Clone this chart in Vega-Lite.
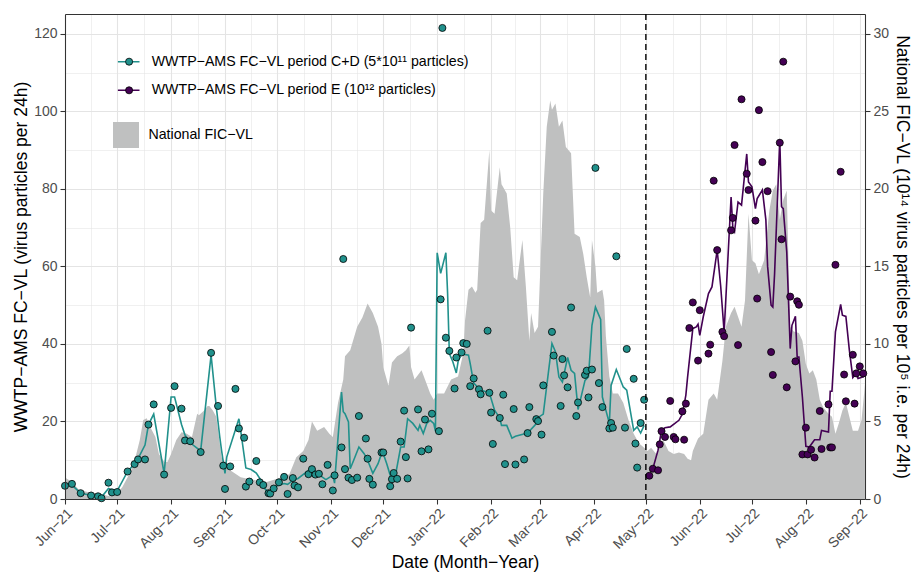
{
"$schema": "https://vega.github.io/schema/vega-lite/v6.json",
"width": 800, "height": 485,
"autosize": {"type": "none"},
"padding": {"left": 65, "top": 14, "right": 54, "bottom": 73},
"background": "white",
"config": {
  "font": "Liberation Sans",
  "view": {"stroke": null},
  "axis": {"labelFont": "Liberation Sans", "titleFont": "Liberation Sans", "labelFontSize": 14, "labelColor": "#4D4D4D", "titleFontSize": 17.5, "titleFontWeight": "normal", "titleColor": "black", "tickColor": "#333333", "domainColor": "#333333", "tickWidth": 1.07, "domainWidth": 1.07, "gridColor": "#E4E4E4"},
  "legend": {"labelFont": "Liberation Sans", "labelFontSize": 14.2, "labelColor": "black", "labelLimit": 500, "padding": 0, "title": null}
},
"datasets": {
  "fic": [
{"date":"2021-06-01","fic":1.38},{"date":"2021-06-05","fic":1.1},{"date":"2021-06-09","fic":0.6},{"date":"2021-06-14","fic":0.45},{"date":"2021-06-19","fic":0.35},{"date":"2021-06-27","fic":0.17},{"date":"2021-07-01","fic":0.35},{"date":"2021-07-04","fic":0.77},{"date":"2021-07-07","fic":1.4},{"date":"2021-07-10","fic":2.1},{"date":"2021-07-12","fic":2.9},{"date":"2021-07-14","fic":3.8},{"date":"2021-07-16","fic":5.1},{"date":"2021-07-18","fic":5.2},{"date":"2021-07-20","fic":4.65},{"date":"2021-07-23","fic":4.0},{"date":"2021-07-25","fic":2.9},{"date":"2021-07-28","fic":2.4},{"date":"2021-07-30","fic":2.4},{"date":"2021-08-01","fic":2.9},{"date":"2021-08-04","fic":3.8},{"date":"2021-08-07","fic":4.3},{"date":"2021-08-10","fic":4.2},{"date":"2021-08-13","fic":4.0},{"date":"2021-08-16","fic":5.5},{"date":"2021-08-17","fic":5.4},{"date":"2021-08-20","fic":5.7},{"date":"2021-08-22","fic":6.0},{"date":"2021-08-23","fic":6.0},{"date":"2021-08-25","fic":5.7},{"date":"2021-08-27","fic":5.3},{"date":"2021-08-30","fic":2.7},{"date":"2021-09-01","fic":2.4},{"date":"2021-09-04","fic":1.85},{"date":"2021-09-10","fic":1.4},{"date":"2021-09-14","fic":1.3},{"date":"2021-09-19","fic":1.2},{"date":"2021-09-25","fic":1.1},{"date":"2021-10-01","fic":1.3},{"date":"2021-10-08","fic":1.6},{"date":"2021-10-12","fic":2.7},{"date":"2021-10-16","fic":3.1},{"date":"2021-10-19","fic":3.8},{"date":"2021-10-21","fic":5.0},{"date":"2021-10-24","fic":4.4},{"date":"2021-10-28","fic":4.65},{"date":"2021-10-31","fic":4.2},{"date":"2021-11-02","fic":4.0},{"date":"2021-11-05","fic":6.2},{"date":"2021-11-08","fic":7.7},{"date":"2021-11-09","fic":9.2},{"date":"2021-11-12","fic":9.6},{"date":"2021-11-16","fic":11.1},{"date":"2021-11-19","fic":11.7},{"date":"2021-11-22","fic":12.6},{"date":"2021-11-25","fic":12.0},{"date":"2021-11-28","fic":11.1},{"date":"2021-11-30","fic":10.0},{"date":"2021-12-01","fic":8.5},{"date":"2021-12-04","fic":7.3},{"date":"2021-12-06","fic":8.8},{"date":"2021-12-09","fic":9.2},{"date":"2021-12-12","fic":9.4},{"date":"2021-12-14","fic":9.6},{"date":"2021-12-16","fic":9.9},{"date":"2021-12-17","fic":8.5},{"date":"2021-12-19","fic":7.7},{"date":"2021-12-23","fic":8.3},{"date":"2021-12-25","fic":7.7},{"date":"2021-12-28","fic":6.8},{"date":"2021-12-30","fic":6.4},{"date":"2022-01-01","fic":6.8},{"date":"2022-01-05","fic":6.8},{"date":"2022-01-09","fic":7.7},{"date":"2022-01-13","fic":7.9},{"date":"2022-01-16","fic":9.4},{"date":"2022-01-17","fic":11.5},{"date":"2022-01-19","fic":13.5},{"date":"2022-01-21","fic":13.7},{"date":"2022-01-23","fic":13.3},{"date":"2022-01-24","fic":13.5},{"date":"2022-01-26","fic":17.8},{"date":"2022-01-28","fic":18.0},{"date":"2022-01-31","fic":22.5},{"date":"2022-02-01","fic":18.6},{"date":"2022-02-03","fic":18.4},{"date":"2022-02-06","fic":21.4},{"date":"2022-02-07","fic":20.3},{"date":"2022-02-10","fic":19.7},{"date":"2022-02-12","fic":17.5},{"date":"2022-02-14","fic":14.3},{"date":"2022-02-16","fic":14.1},{"date":"2022-02-19","fic":16.7},{"date":"2022-02-21","fic":13.7},{"date":"2022-02-23","fic":10.2},{"date":"2022-02-24","fic":12.0},{"date":"2022-02-26","fic":10.7},{"date":"2022-02-28","fic":11.1},{"date":"2022-03-03","fic":19.7},{"date":"2022-03-05","fic":24.0},{"date":"2022-03-07","fic":25.7},{"date":"2022-03-08","fic":25.1},{"date":"2022-03-10","fic":25.5},{"date":"2022-03-12","fic":24.0},{"date":"2022-03-14","fic":24.4},{"date":"2022-03-16","fic":22.7},{"date":"2022-03-19","fic":22.3},{"date":"2022-03-21","fic":17.1},{"date":"2022-03-24","fic":16.9},{"date":"2022-03-26","fic":15.8},{"date":"2022-03-28","fic":14.3},{"date":"2022-03-30","fic":13.0},{"date":"2022-03-31","fic":16.7},{"date":"2022-04-02","fic":15.0},{"date":"2022-04-03","fic":13.3},{"date":"2022-04-06","fic":13.5},{"date":"2022-04-07","fic":12.8},{"date":"2022-04-08","fic":10.5},{"date":"2022-04-10","fic":7.9},{"date":"2022-04-12","fic":6.8},{"date":"2022-04-15","fic":6.8},{"date":"2022-04-18","fic":6.2},{"date":"2022-04-21","fic":5.1},{"date":"2022-04-24","fic":4.2},{"date":"2022-04-27","fic":3.6},{"date":"2022-04-30","fic":3.3},{"date":"2022-05-02","fic":3.1},{"date":"2022-05-04","fic":3.3},{"date":"2022-05-07","fic":2.9},{"date":"2022-05-09","fic":3.3},{"date":"2022-05-11","fic":3.8},{"date":"2022-05-14","fic":3.1},{"date":"2022-05-17","fic":2.9},{"date":"2022-05-20","fic":3.0},{"date":"2022-05-23","fic":2.9},{"date":"2022-05-25","fic":2.6},{"date":"2022-05-27","fic":2.5},{"date":"2022-05-28","fic":3.1},{"date":"2022-05-31","fic":3.9},{"date":"2022-06-03","fic":4.2},{"date":"2022-06-06","fic":6.4},{"date":"2022-06-09","fic":6.8},{"date":"2022-06-11","fic":6.4},{"date":"2022-06-14","fic":8.9},{"date":"2022-06-16","fic":11.1},{"date":"2022-06-19","fic":12.0},{"date":"2022-06-21","fic":12.4},{"date":"2022-06-25","fic":11.1},{"date":"2022-06-27","fic":12.8},{"date":"2022-06-28","fic":15.6},{"date":"2022-06-29","fic":18.4},{"date":"2022-07-01","fic":15.4},{"date":"2022-07-03","fic":15.2},{"date":"2022-07-05","fic":14.5},{"date":"2022-07-08","fic":15.4},{"date":"2022-07-11","fic":18.6},{"date":"2022-07-13","fic":19.9},{"date":"2022-07-15","fic":20.3},{"date":"2022-07-17","fic":18.0},{"date":"2022-07-19","fic":19.3},{"date":"2022-07-21","fic":19.9},{"date":"2022-07-22","fic":15.4},{"date":"2022-07-23","fic":11.1},{"date":"2022-07-25","fic":10.8},{"date":"2022-07-28","fic":10.7},{"date":"2022-07-30","fic":10.2},{"date":"2022-08-01","fic":8.7},{"date":"2022-08-03","fic":8.1},{"date":"2022-08-05","fic":8.3},{"date":"2022-08-07","fic":7.7},{"date":"2022-08-09","fic":6.4},{"date":"2022-08-11","fic":5.9},{"date":"2022-08-14","fic":5.5},{"date":"2022-08-16","fic":5.3},{"date":"2022-08-18","fic":4.2},{"date":"2022-08-20","fic":4.9},{"date":"2022-08-22","fic":5.7},{"date":"2022-08-24","fic":6.2},{"date":"2022-08-26","fic":5.3},{"date":"2022-08-28","fic":4.4},{"date":"2022-08-31","fic":4.4},{"date":"2022-09-02","fic":5.1},{"date":"2022-09-04","fic":7.4}
  ],
  "lines": [
{"date":"2021-06-01","v":3.5,"series":"CD"},{"date":"2021-06-04","v":4.0,"series":"CD"},{"date":"2021-06-10","v":1.5,"series":"CD"},{"date":"2021-06-16","v":0.95,"series":"CD"},{"date":"2021-06-22","v":0.5,"series":"CD"},{"date":"2021-06-26","v":2.7,"series":"CD"},{"date":"2021-06-28","v":2.4,"series":"CD"},{"date":"2021-07-01","v":2.1,"series":"CD"},{"date":"2021-07-07","v":7.1,"series":"CD"},{"date":"2021-07-11","v":9.1,"series":"CD"},{"date":"2021-07-13","v":10.4,"series":"CD"},{"date":"2021-07-17","v":13.9,"series":"CD"},{"date":"2021-07-19","v":19.2,"series":"CD"},{"date":"2021-07-22","v":21.9,"series":"CD"},{"date":"2021-07-28","v":6.6,"series":"CD"},{"date":"2021-08-01","v":26.3,"series":"CD"},{"date":"2021-08-03","v":26.3,"series":"CD"},{"date":"2021-08-07","v":19.2,"series":"CD"},{"date":"2021-08-09","v":16.5,"series":"CD"},{"date":"2021-08-12","v":14.5,"series":"CD"},{"date":"2021-08-18","v":12.4,"series":"CD"},{"date":"2021-08-24","v":37.1,"series":"CD"},{"date":"2021-08-27","v":23.7,"series":"CD"},{"date":"2021-08-29","v":16,"series":"CD"},{"date":"2021-08-30","v":12.6,"series":"CD"},{"date":"2021-09-01","v":6.6,"series":"CD"},{"date":"2021-09-02","v":10.8,"series":"CD"},{"date":"2021-09-09","v":20.7,"series":"CD"},{"date":"2021-09-10","v":17.7,"series":"CD"},{"date":"2021-09-13","v":8.0,"series":"CD"},{"date":"2021-09-16","v":7.6,"series":"CD"},{"date":"2021-09-19","v":6.7,"series":"CD"},{"date":"2021-09-22","v":4.6,"series":"CD"},{"date":"2021-09-23","v":3.1,"series":"CD"},{"date":"2021-09-26","v":1.7,"series":"CD"},{"date":"2021-09-28","v":2.2,"series":"CD"},{"date":"2021-10-01","v":3.4,"series":"CD"},{"date":"2021-10-05","v":4.0,"series":"CD"},{"date":"2021-10-07","v":3.8,"series":"CD"},{"date":"2021-10-10","v":4.8,"series":"CD"},{"date":"2021-10-13","v":5.3,"series":"CD"},{"date":"2021-10-19","v":7.4,"series":"CD"},{"date":"2021-10-21","v":8.0,"series":"CD"},{"date":"2021-10-25","v":6.3,"series":"CD"},{"date":"2021-10-29","v":5.0,"series":"CD"},{"date":"2021-11-02","v":6.1,"series":"CD"},{"date":"2021-11-03","v":4.1,"series":"CD"},{"date":"2021-11-07","v":27.6,"series":"CD"},{"date":"2021-11-08","v":22.5,"series":"CD"},{"date":"2021-11-09","v":22.0,"series":"CD"},{"date":"2021-11-11","v":19.9,"series":"CD"},{"date":"2021-11-12","v":7.8,"series":"CD"},{"date":"2021-11-14","v":10.0,"series":"CD"},{"date":"2021-11-17","v":13.4,"series":"CD"},{"date":"2021-11-20","v":11.7,"series":"CD"},{"date":"2021-11-22","v":10.0,"series":"CD"},{"date":"2021-11-25","v":6.6,"series":"CD"},{"date":"2021-11-28","v":9.1,"series":"CD"},{"date":"2021-11-30","v":11.7,"series":"CD"},{"date":"2021-12-01","v":11.7,"series":"CD"},{"date":"2021-12-03","v":9.1,"series":"CD"},{"date":"2021-12-05","v":6.1,"series":"CD"},{"date":"2021-12-08","v":6.1,"series":"CD"},{"date":"2021-12-11","v":13.4,"series":"CD"},{"date":"2021-12-13","v":13.4,"series":"CD"},{"date":"2021-12-15","v":20.7,"series":"CD"},{"date":"2021-12-18","v":19.5,"series":"CD"},{"date":"2021-12-21","v":17.7,"series":"CD"},{"date":"2021-12-22","v":19.0,"series":"CD"},{"date":"2021-12-24","v":16.9,"series":"CD"},{"date":"2021-12-26","v":19.5,"series":"CD"},{"date":"2021-12-28","v":20.3,"series":"CD"},{"date":"2021-12-30","v":19.5,"series":"CD"},{"date":"2021-12-31","v":17.5,"series":"CD"},{"date":"2022-01-01","v":63.5,"series":"CD"},{"date":"2022-01-03","v":58.2,"series":"CD"},{"date":"2022-01-06","v":63.5,"series":"CD"},{"date":"2022-01-07","v":53,"series":"CD"},{"date":"2022-01-08","v":37.5,"series":"CD"},{"date":"2022-01-10","v":35.4,"series":"CD"},{"date":"2022-01-12","v":32.5,"series":"CD"},{"date":"2022-01-13","v":35.4,"series":"CD"},{"date":"2022-01-15","v":37.5,"series":"CD"},{"date":"2022-01-19","v":37.1,"series":"CD"},{"date":"2022-01-20","v":34.9,"series":"CD"},{"date":"2022-01-22","v":29.9,"series":"CD"},{"date":"2022-01-26","v":28.1,"series":"CD"},{"date":"2022-01-31","v":27.4,"series":"CD"},{"date":"2022-02-03","v":22.9,"series":"CD"},{"date":"2022-02-06","v":20.9,"series":"CD"},{"date":"2022-02-07","v":19.0,"series":"CD"},{"date":"2022-02-10","v":19.0,"series":"CD"},{"date":"2022-02-13","v":15.7,"series":"CD"},{"date":"2022-02-15","v":16.2,"series":"CD"},{"date":"2022-02-22","v":17.0,"series":"CD"},{"date":"2022-02-28","v":19.9,"series":"CD"},{"date":"2022-03-01","v":21.3,"series":"CD"},{"date":"2022-03-03","v":21.9,"series":"CD"},{"date":"2022-03-08","v":40.1,"series":"CD"},{"date":"2022-03-10","v":38,"series":"CD"},{"date":"2022-03-12","v":31.5,"series":"CD"},{"date":"2022-03-14","v":30.2,"series":"CD"},{"date":"2022-03-17","v":36.5,"series":"CD"},{"date":"2022-03-19","v":33.2,"series":"CD"},{"date":"2022-03-21","v":32.4,"series":"CD"},{"date":"2022-03-23","v":23.1,"series":"CD"},{"date":"2022-03-25","v":26.8,"series":"CD"},{"date":"2022-03-27","v":30.6,"series":"CD"},{"date":"2022-03-29","v":31.5,"series":"CD"},{"date":"2022-03-31","v":44.8,"series":"CD"},{"date":"2022-04-02","v":49.5,"series":"CD"},{"date":"2022-04-05","v":46.3,"series":"CD"},{"date":"2022-04-06","v":26.3,"series":"CD"},{"date":"2022-04-10","v":19.5,"series":"CD"},{"date":"2022-04-11","v":29.3,"series":"CD"},{"date":"2022-04-14","v":33.4,"series":"CD"},{"date":"2022-04-18","v":28.9,"series":"CD"},{"date":"2022-04-20","v":28.1,"series":"CD"},{"date":"2022-04-24","v":17.7,"series":"CD"},{"date":"2022-04-26","v":18.6,"series":"CD"},{"date":"2022-04-28","v":17.0,"series":"CD"},{"date":"2022-04-30","v":19.0,"series":"CD"},
{"date":"2022-05-05","v":7.8,"series":"E"},{"date":"2022-05-08","v":12.6,"series":"E"},{"date":"2022-05-10","v":17.7,"series":"E"},{"date":"2022-05-12","v":18.4,"series":"E"},{"date":"2022-05-15","v":18.6,"series":"E"},{"date":"2022-05-20","v":20.3,"series":"E"},{"date":"2022-05-22","v":21.9,"series":"E"},{"date":"2022-05-24","v":26.8,"series":"E"},{"date":"2022-05-25","v":31.5,"series":"E"},{"date":"2022-05-28","v":44.0,"series":"E"},{"date":"2022-05-30","v":44.4,"series":"E"},{"date":"2022-05-31","v":45.1,"series":"E"},{"date":"2022-06-01","v":42.2,"series":"E"},{"date":"2022-06-03","v":47,"series":"E"},{"date":"2022-06-06","v":53,"series":"E"},{"date":"2022-06-08","v":54.7,"series":"E"},{"date":"2022-06-11","v":64.2,"series":"E"},{"date":"2022-06-13","v":55,"series":"E"},{"date":"2022-06-15","v":43.1,"series":"E"},{"date":"2022-06-19","v":77.9,"series":"E"},{"date":"2022-06-20","v":70,"series":"E"},{"date":"2022-06-21","v":69,"series":"E"},{"date":"2022-06-23","v":76.6,"series":"E"},{"date":"2022-06-25","v":75.8,"series":"E"},{"date":"2022-06-28","v":89,"series":"E"},{"date":"2022-06-29","v":81.8,"series":"E"},{"date":"2022-07-01","v":80.5,"series":"E"},{"date":"2022-07-03","v":74.9,"series":"E"},{"date":"2022-07-04","v":77.5,"series":"E"},{"date":"2022-07-07","v":79.7,"series":"E"},{"date":"2022-07-09","v":72,"series":"E"},{"date":"2022-07-10","v":60,"series":"E"},{"date":"2022-07-12","v":50,"series":"E"},{"date":"2022-07-13","v":49.5,"series":"E"},{"date":"2022-07-14","v":58,"series":"E"},{"date":"2022-07-17","v":92.8,"series":"E"},{"date":"2022-07-18","v":75.4,"series":"E"},{"date":"2022-07-19","v":74.9,"series":"E"},{"date":"2022-07-21","v":63.7,"series":"E"},{"date":"2022-07-23","v":38.8,"series":"E"},{"date":"2022-07-24","v":44.8,"series":"E"},{"date":"2022-07-26","v":47.1,"series":"E"},{"date":"2022-07-27","v":36.6,"series":"E"},{"date":"2022-07-28","v":36.6,"series":"E"},{"date":"2022-07-30","v":26.3,"series":"E"},{"date":"2022-08-01","v":13.6,"series":"E"},{"date":"2022-08-03","v":13.4,"series":"E"},{"date":"2022-08-06","v":15.3,"series":"E"},{"date":"2022-08-09","v":15.3,"series":"E"},{"date":"2022-08-10","v":17.7,"series":"E"},{"date":"2022-08-14","v":17.3,"series":"E"},{"date":"2022-08-15","v":27.8,"series":"E"},{"date":"2022-08-16","v":27.8,"series":"E"},{"date":"2022-08-18","v":43.1,"series":"E"},{"date":"2022-08-21","v":50.2,"series":"E"},{"date":"2022-08-22","v":47.4,"series":"E"},{"date":"2022-08-24","v":47.1,"series":"E"},{"date":"2022-08-26","v":38.4,"series":"E"},{"date":"2022-08-28","v":31.3,"series":"E"},{"date":"2022-08-30","v":32.4,"series":"E"},{"date":"2022-08-31","v":31.1,"series":"E"},{"date":"2022-09-03","v":31.5,"series":"E"},{"date":"2022-09-04","v":32,"series":"E"}
  ],
  "points": [
{"date":"2021-06-01","v":3.4,"period":"C+D"},{"date":"2021-06-05","v":3.9,"period":"C+D"},{"date":"2021-06-10","v":1.5,"period":"C+D"},{"date":"2021-06-16","v":0.9,"period":"C+D"},{"date":"2021-06-20","v":0.7,"period":"C+D"},{"date":"2021-06-22","v":0.2,"period":"C+D"},{"date":"2021-06-26","v":4.2,"period":"C+D"},{"date":"2021-06-28","v":1.7,"period":"C+D"},{"date":"2021-07-01","v":1.8,"period":"C+D"},{"date":"2021-07-07","v":7.1,"period":"C+D"},{"date":"2021-07-11","v":9.0,"period":"C+D"},{"date":"2021-07-13","v":10.2,"period":"C+D"},{"date":"2021-07-17","v":10.2,"period":"C+D"},{"date":"2021-07-19","v":19.2,"period":"C+D"},{"date":"2021-07-22","v":24.4,"period":"C+D"},{"date":"2021-07-28","v":6.3,"period":"C+D"},{"date":"2021-08-01","v":23.5,"period":"C+D"},{"date":"2021-08-03","v":29.1,"period":"C+D"},{"date":"2021-08-07","v":23.3,"period":"C+D"},{"date":"2021-08-09","v":15.1,"period":"C+D"},{"date":"2021-08-12","v":14.9,"period":"C+D"},{"date":"2021-08-18","v":12.1,"period":"C+D"},{"date":"2021-08-24","v":37.7,"period":"C+D"},{"date":"2021-08-28","v":24.0,"period":"C+D"},{"date":"2021-08-31","v":8.6,"period":"C+D"},{"date":"2021-09-01","v":2.6,"period":"C+D"},{"date":"2021-09-04","v":8.4,"period":"C+D"},{"date":"2021-09-07","v":28.4,"period":"C+D"},{"date":"2021-09-09","v":18.2,"period":"C+D"},{"date":"2021-09-12","v":15.8,"period":"C+D"},{"date":"2021-09-13","v":3.2,"period":"C+D"},{"date":"2021-09-15","v":4.5,"period":"C+D"},{"date":"2021-09-19","v":9.8,"period":"C+D"},{"date":"2021-09-21","v":4.3,"period":"C+D"},{"date":"2021-09-23","v":3.6,"period":"C+D"},{"date":"2021-09-26","v":1.5,"period":"C+D"},{"date":"2021-09-27","v":1.4,"period":"C+D"},{"date":"2021-09-29","v":2.7,"period":"C+D"},{"date":"2021-10-02","v":4.3,"period":"C+D"},{"date":"2021-10-05","v":5.7,"period":"C+D"},{"date":"2021-10-07","v":1.3,"period":"C+D"},{"date":"2021-10-10","v":5.4,"period":"C+D"},{"date":"2021-10-11","v":3.5,"period":"C+D"},{"date":"2021-10-13","v":3.0,"period":"C+D"},{"date":"2021-10-16","v":10.4,"period":"C+D"},{"date":"2021-10-19","v":6.4,"period":"C+D"},{"date":"2021-10-21","v":7.7,"period":"C+D"},{"date":"2021-10-23","v":6.3,"period":"C+D"},{"date":"2021-10-25","v":6.5,"period":"C+D"},{"date":"2021-10-27","v":3.8,"period":"C+D"},{"date":"2021-10-30","v":8.8,"period":"C+D"},{"date":"2021-11-02","v":2.2,"period":"C+D"},{"date":"2021-11-03","v":6.1,"period":"C+D"},{"date":"2021-11-07","v":13.3,"period":"C+D"},{"date":"2021-11-08","v":61.9,"period":"C+D"},{"date":"2021-11-09","v":7.7,"period":"C+D"},{"date":"2021-11-11","v":5.5,"period":"C+D"},{"date":"2021-11-13","v":4.9,"period":"C+D"},{"date":"2021-11-16","v":5.5,"period":"C+D"},{"date":"2021-11-17","v":21.4,"period":"C+D"},{"date":"2021-11-21","v":15.6,"period":"C+D"},{"date":"2021-11-22","v":10.4,"period":"C+D"},{"date":"2021-11-23","v":5.2,"period":"C+D"},{"date":"2021-11-25","v":3.7,"period":"C+D"},{"date":"2021-11-30","v":12.0,"period":"C+D"},{"date":"2021-12-01","v":12.0,"period":"C+D"},{"date":"2021-12-05","v":3.3,"period":"C+D"},{"date":"2021-12-06","v":5.1,"period":"C+D"},{"date":"2021-12-07","v":6.7,"period":"C+D"},{"date":"2021-12-09","v":5.2,"period":"C+D"},{"date":"2021-12-11","v":14.8,"period":"C+D"},{"date":"2021-12-13","v":22.8,"period":"C+D"},{"date":"2021-12-14","v":10.8,"period":"C+D"},{"date":"2021-12-15","v":5.3,"period":"C+D"},{"date":"2021-12-17","v":44.2,"period":"C+D"},{"date":"2021-12-21","v":23.1,"period":"C+D"},{"date":"2021-12-23","v":12.3,"period":"C+D"},{"date":"2021-12-25","v":20.5,"period":"C+D"},{"date":"2021-12-27","v":12.8,"period":"C+D"},{"date":"2021-12-29","v":22.0,"period":"C+D"},{"date":"2022-01-02","v":17.5,"period":"C+D"},{"date":"2022-01-03","v":51.5,"period":"C+D"},{"date":"2022-01-04","v":121.5,"period":"C+D"},{"date":"2022-01-06","v":41.6,"period":"C+D"},{"date":"2022-01-08","v":38.2,"period":"C+D"},{"date":"2022-01-11","v":28.5,"period":"C+D"},{"date":"2022-01-12","v":36.5,"period":"C+D"},{"date":"2022-01-15","v":37.8,"period":"C+D"},{"date":"2022-01-16","v":40.2,"period":"C+D"},{"date":"2022-01-18","v":40.0,"period":"C+D"},{"date":"2022-01-20","v":29.1,"period":"C+D"},{"date":"2022-01-22","v":31.1,"period":"C+D"},{"date":"2022-01-25","v":28.3,"period":"C+D"},{"date":"2022-01-26","v":27.0,"period":"C+D"},{"date":"2022-01-30","v":43.4,"period":"C+D"},{"date":"2022-01-31","v":27.4,"period":"C+D"},{"date":"2022-02-01","v":22.3,"period":"C+D"},{"date":"2022-02-02","v":14.2,"period":"C+D"},{"date":"2022-02-06","v":20.9,"period":"C+D"},{"date":"2022-02-08","v":26.9,"period":"C+D"},{"date":"2022-02-09","v":9.0,"period":"C+D"},{"date":"2022-02-14","v":23.2,"period":"C+D"},{"date":"2022-02-15","v":8.9,"period":"C+D"},{"date":"2022-02-20","v":10.2,"period":"C+D"},{"date":"2022-02-22","v":17.0,"period":"C+D"},{"date":"2022-02-23","v":23.7,"period":"C+D"},{"date":"2022-02-27","v":20.6,"period":"C+D"},{"date":"2022-02-28","v":20.1,"period":"C+D"},{"date":"2022-03-02","v":16.6,"period":"C+D"},{"date":"2022-03-03","v":29.3,"period":"C+D"},{"date":"2022-03-08","v":43.1,"period":"C+D"},{"date":"2022-03-09","v":37.0,"period":"C+D"},{"date":"2022-03-13","v":24.0,"period":"C+D"},{"date":"2022-03-14","v":36.1,"period":"C+D"},{"date":"2022-03-15","v":31.9,"period":"C+D"},{"date":"2022-03-17","v":28.8,"period":"C+D"},{"date":"2022-03-19","v":49.4,"period":"C+D"},{"date":"2022-03-22","v":21.4,"period":"C+D"},{"date":"2022-03-23","v":24.9,"period":"C+D"},{"date":"2022-03-27","v":32.0,"period":"C+D"},{"date":"2022-03-28","v":33.1,"period":"C+D"},{"date":"2022-03-29","v":26.2,"period":"C+D"},{"date":"2022-03-31","v":33.4,"period":"C+D"},{"date":"2022-04-02","v":85.4,"period":"C+D"},{"date":"2022-04-04","v":29.9,"period":"C+D"},{"date":"2022-04-06","v":23.7,"period":"C+D"},{"date":"2022-04-10","v":18.2,"period":"C+D"},{"date":"2022-04-11","v":19.6,"period":"C+D"},{"date":"2022-04-12","v":18.4,"period":"C+D"},{"date":"2022-04-14","v":62.6,"period":"C+D"},{"date":"2022-04-19","v":18.4,"period":"C+D"},{"date":"2022-04-20","v":38.7,"period":"C+D"},{"date":"2022-04-24","v":31.0,"period":"C+D"},{"date":"2022-04-25","v":14.3,"period":"C+D"},{"date":"2022-04-26","v":8.1,"period":"C+D"},{"date":"2022-04-28","v":19.6,"period":"C+D"},{"date":"2022-04-30","v":25.6,"period":"C+D"},
{"date":"2022-05-03","v":6.0,"period":"E"},{"date":"2022-05-05","v":7.8,"period":"E"},{"date":"2022-05-08","v":7.4,"period":"E"},{"date":"2022-05-09","v":14.1,"period":"E"},{"date":"2022-05-10","v":17.5,"period":"E"},{"date":"2022-05-12","v":16.0,"period":"E"},{"date":"2022-05-15","v":25.3,"period":"E"},{"date":"2022-05-17","v":16.0,"period":"E"},{"date":"2022-05-18","v":15.4,"period":"E"},{"date":"2022-05-22","v":22.6,"period":"E"},{"date":"2022-05-23","v":15.3,"period":"E"},{"date":"2022-05-24","v":24.6,"period":"E"},{"date":"2022-05-26","v":44.1,"period":"E"},{"date":"2022-05-28","v":50.7,"period":"E"},{"date":"2022-05-31","v":35.7,"period":"E"},{"date":"2022-06-01","v":48.7,"period":"E"},{"date":"2022-06-06","v":37.5,"period":"E"},{"date":"2022-06-07","v":39.8,"period":"E"},{"date":"2022-06-09","v":82.1,"period":"E"},{"date":"2022-06-11","v":64.2,"period":"E"},{"date":"2022-06-14","v":43.1,"period":"E"},{"date":"2022-06-15","v":42.0,"period":"E"},{"date":"2022-06-19","v":69.3,"period":"E"},{"date":"2022-06-20","v":72.5,"period":"E"},{"date":"2022-06-21","v":91.3,"period":"E"},{"date":"2022-06-23","v":39.7,"period":"E"},{"date":"2022-06-25","v":103.1,"period":"E"},{"date":"2022-06-28","v":83.9,"period":"E"},{"date":"2022-06-29","v":79.7,"period":"E"},{"date":"2022-07-03","v":71.8,"period":"E"},{"date":"2022-07-04","v":51.7,"period":"E"},{"date":"2022-07-05","v":100.3,"period":"E"},{"date":"2022-07-07","v":86.9,"period":"E"},{"date":"2022-07-10","v":79.4,"period":"E"},{"date":"2022-07-12","v":37.9,"period":"E"},{"date":"2022-07-13","v":32.0,"period":"E"},{"date":"2022-07-17","v":91.9,"period":"E"},{"date":"2022-07-18","v":67.0,"period":"E"},{"date":"2022-07-19","v":112.8,"period":"E"},{"date":"2022-07-21","v":28.8,"period":"E"},{"date":"2022-07-23","v":52.2,"period":"E"},{"date":"2022-07-26","v":35.5,"period":"E"},{"date":"2022-07-27","v":51.0,"period":"E"},{"date":"2022-07-28","v":50.1,"period":"E"},{"date":"2022-07-30","v":11.5,"period":"E"},{"date":"2022-08-01","v":18.4,"period":"E"},{"date":"2022-08-02","v":11.5,"period":"E"},{"date":"2022-08-04","v":12.7,"period":"E"},{"date":"2022-08-06","v":10.7,"period":"E"},{"date":"2022-08-09","v":22.7,"period":"E"},{"date":"2022-08-10","v":12.9,"period":"E"},{"date":"2022-08-14","v":24.4,"period":"E"},{"date":"2022-08-15","v":13.3,"period":"E"},{"date":"2022-08-16","v":13.3,"period":"E"},{"date":"2022-08-18","v":60.4,"period":"E"},{"date":"2022-08-21","v":84.4,"period":"E"},{"date":"2022-08-23","v":32.1,"period":"E"},{"date":"2022-08-24","v":25.2,"period":"E"},{"date":"2022-08-28","v":37.2,"period":"E"},{"date":"2022-08-29","v":24.6,"period":"E"},{"date":"2022-08-30","v":32.4,"period":"E"},{"date":"2022-09-01","v":34.2,"period":"E"},{"date":"2022-09-03","v":32.4,"period":"E"}
  ],
  "cut": [{"date":"2022-05-01"}]
},
"layer": [
  {
    "data": {"name": "fic"},
    "mark": {"type": "area", "opacity": 1, "interpolate": "linear"},
    "encoding": {
      "x": {"field": "date", "type": "temporal",
        "scale": {"type": "utc", "nice": false, "domain": [{"year":2021,"month":6,"date":1,"utc":true},{"year":2022,"month":9,"date":4,"utc":true}]},
        "axis": {"orient": "top", "title": null, "labels": false, "ticks": false, "domain": true, "grid": true, "zindex": 0,
          "gridWidth": {"condition": {"test": "utcdate(datum.value) !== 1", "value": 0.55}, "value": 1.1},
          "values": [
            {"year":2021,"month":6,"date":1,"utc":true},{"year":2021,"month":6,"date":16,"utc":true},
            {"year":2021,"month":7,"date":1,"utc":true},{"year":2021,"month":7,"date":16,"hours":12,"utc":true},
            {"year":2021,"month":8,"date":1,"utc":true},{"year":2021,"month":8,"date":16,"hours":12,"utc":true},
            {"year":2021,"month":9,"date":1,"utc":true},{"year":2021,"month":9,"date":16,"utc":true},
            {"year":2021,"month":10,"date":1,"utc":true},{"year":2021,"month":10,"date":16,"hours":12,"utc":true},
            {"year":2021,"month":11,"date":1,"utc":true},{"year":2021,"month":11,"date":16,"utc":true},
            {"year":2021,"month":12,"date":1,"utc":true},{"year":2021,"month":12,"date":16,"hours":12,"utc":true},
            {"year":2022,"month":1,"date":1,"utc":true},{"year":2022,"month":1,"date":16,"hours":12,"utc":true},
            {"year":2022,"month":2,"date":1,"utc":true},{"year":2022,"month":2,"date":15,"utc":true},
            {"year":2022,"month":3,"date":1,"utc":true},{"year":2022,"month":3,"date":16,"hours":12,"utc":true},
            {"year":2022,"month":4,"date":1,"utc":true},{"year":2022,"month":4,"date":16,"utc":true},
            {"year":2022,"month":5,"date":1,"utc":true},{"year":2022,"month":5,"date":16,"hours":12,"utc":true},
            {"year":2022,"month":6,"date":1,"utc":true},{"year":2022,"month":6,"date":16,"utc":true},
            {"year":2022,"month":7,"date":1,"utc":true},{"year":2022,"month":7,"date":16,"hours":12,"utc":true},
            {"year":2022,"month":8,"date":1,"utc":true},{"year":2022,"month":8,"date":16,"hours":12,"utc":true},
            {"year":2022,"month":9,"date":1,"utc":true}
          ]}},
      "y": {"field": "fic", "type": "quantitative",
        "scale": {"domain": [0, 31.275], "nice": false, "zero": false},
        "axis": {"orient": "right", "zindex": 0, "grid": true,
          "values": [0,2.5,5,7.5,10,12.5,15,17.5,20,22.5,25,27.5,30],
          "gridWidth": {"condition": {"test": "datum.value % 5 !== 0", "value": 0.55}, "value": 1.1},
          "tickOpacity": {"condition": {"test": "datum.value % 5 !== 0", "value": 0}, "value": 1},
          "labelExpr": "datum.value % 5 === 0 ? format(datum.value, 'd') : ''",
          "tickSize": 5, "labelPadding": 3,
          "title": "National FIC−VL (10¹⁴ virus particles per 10⁵ i.e. per 24h)",
          "titleAngle": 90, "titleX": 31.4, "titleY": 242.5, "titleBaseline": "alphabetic", "titleAlign": "center"}},
      "color": {"datum": "National FIC−VL", "scale": {"range": ["#BFC0C0"]},
        "legend": {"orient": "none", "legendX": 48, "legendY": 108, "symbolType": "square", "symbolSize": 676, "symbolStrokeWidth": 0, "labelOffset": 9.4, "title": null}}
    }
  },
  {
    "layer": [
      {
        "data": {"name": "lines"},
        "mark": {"type": "line", "strokeWidth": 1.6},
        "encoding": {
          "x": {"field": "date", "type": "temporal",
            "scale": {"type": "utc", "nice": false, "domain": [{"year":2021,"month":6,"date":1,"utc":true},{"year":2022,"month":9,"date":4,"utc":true}]},
            "axis": {"orient": "bottom", "grid": false, "zindex": 1, "tickSize": 5, "labelPadding": 2,
              "labelAngle": -45, "labelAlign": "right", "labelBaseline": "top",
              "labelExpr": "utcFormat(datum.value, '%b') + '−' + utcFormat(datum.value, '%y')",
              "values": [
                {"year":2021,"month":6,"date":1,"utc":true},{"year":2021,"month":7,"date":1,"utc":true},{"year":2021,"month":8,"date":1,"utc":true},{"year":2021,"month":9,"date":1,"utc":true},
                {"year":2021,"month":10,"date":1,"utc":true},{"year":2021,"month":11,"date":1,"utc":true},{"year":2021,"month":12,"date":1,"utc":true},{"year":2022,"month":1,"date":1,"utc":true},
                {"year":2022,"month":2,"date":1,"utc":true},{"year":2022,"month":3,"date":1,"utc":true},{"year":2022,"month":4,"date":1,"utc":true},{"year":2022,"month":5,"date":1,"utc":true},
                {"year":2022,"month":6,"date":1,"utc":true},{"year":2022,"month":7,"date":1,"utc":true},{"year":2022,"month":8,"date":1,"utc":true},{"year":2022,"month":9,"date":1,"utc":true}
              ],
              "title": "Date (Month−Year)", "titleX": 400, "titleY": 68.6, "titleBaseline": "alphabetic", "titleAlign": "center"}},
          "y": {"field": "v", "type": "quantitative",
            "scale": {"domain": [0, 125.1], "nice": false, "zero": false},
            "axis": {"orient": "left", "grid": false, "zindex": 1, "values": [0,20,40,60,80,100,120], "tickSize": 5, "labelPadding": 3,
              "title": "WWTP−AMS FC−VL (virus particles per 24h)", "titleAngle": 270, "titleX": -38.6, "titleY": 242.5, "titleBaseline": "alphabetic", "titleAlign": "center"}},
          "stroke": {"field": "series", "type": "nominal",
            "scale": {"domain": ["CD", "E"], "range": ["#21918C", "#440154"]},
            "legend": {"orient": "none", "legendX": 51.7, "legendY": 40.7, "direction": "vertical", "symbolType": "stroke", "symbolSize": 466, "symbolStrokeWidth": 1.6, "clipHeight": 14, "rowPadding": 13.6, "labelOffset": 11, "zindex": 1, "title": null,
              "labelExpr": "datum.value == 'CD' ? 'WWTP−AMS FC−VL period C+D (5*10¹¹ particles)' : 'WWTP−AMS FC−VL period E (10¹² particles)'"}}
        }
      },
      {
        "data": {"name": "points"},
        "mark": {"type": "circle", "size": 50, "opacity": 1, "stroke": "black", "strokeWidth": 0.8},
        "encoding": {
          "x": {"field": "date", "type": "temporal"},
          "y": {"field": "v", "type": "quantitative"},
          "fill": {"field": "period", "type": "nominal",
            "scale": {"domain": ["C+D", "E"], "range": ["#21918C", "#440154"]},
            "legend": {"orient": "none", "legendX": 51.7, "legendY": 40.7, "direction": "vertical", "symbolType": "circle", "symbolSize": 50, "symbolStrokeColor": "black", "symbolStrokeWidth": 0.8, "symbolOffset": 5.3, "clipHeight": 14, "rowPadding": 13.6, "labelOffset": 11, "labelOpacity": 0, "zindex": 2, "title": null,
              "labelExpr": "' '"}}
        }
      },
      {
        "data": {"name": "cut"},
        "mark": {"type": "rule", "color": "black", "strokeWidth": 1.4, "strokeDash": [6, 4]},
        "encoding": {
          "x": {"field": "date", "type": "temporal"}
        }
      }
    ]
  }
],
"resolve": {"scale": {"y": "independent"}, "axis": {"x": "independent"}}
}
